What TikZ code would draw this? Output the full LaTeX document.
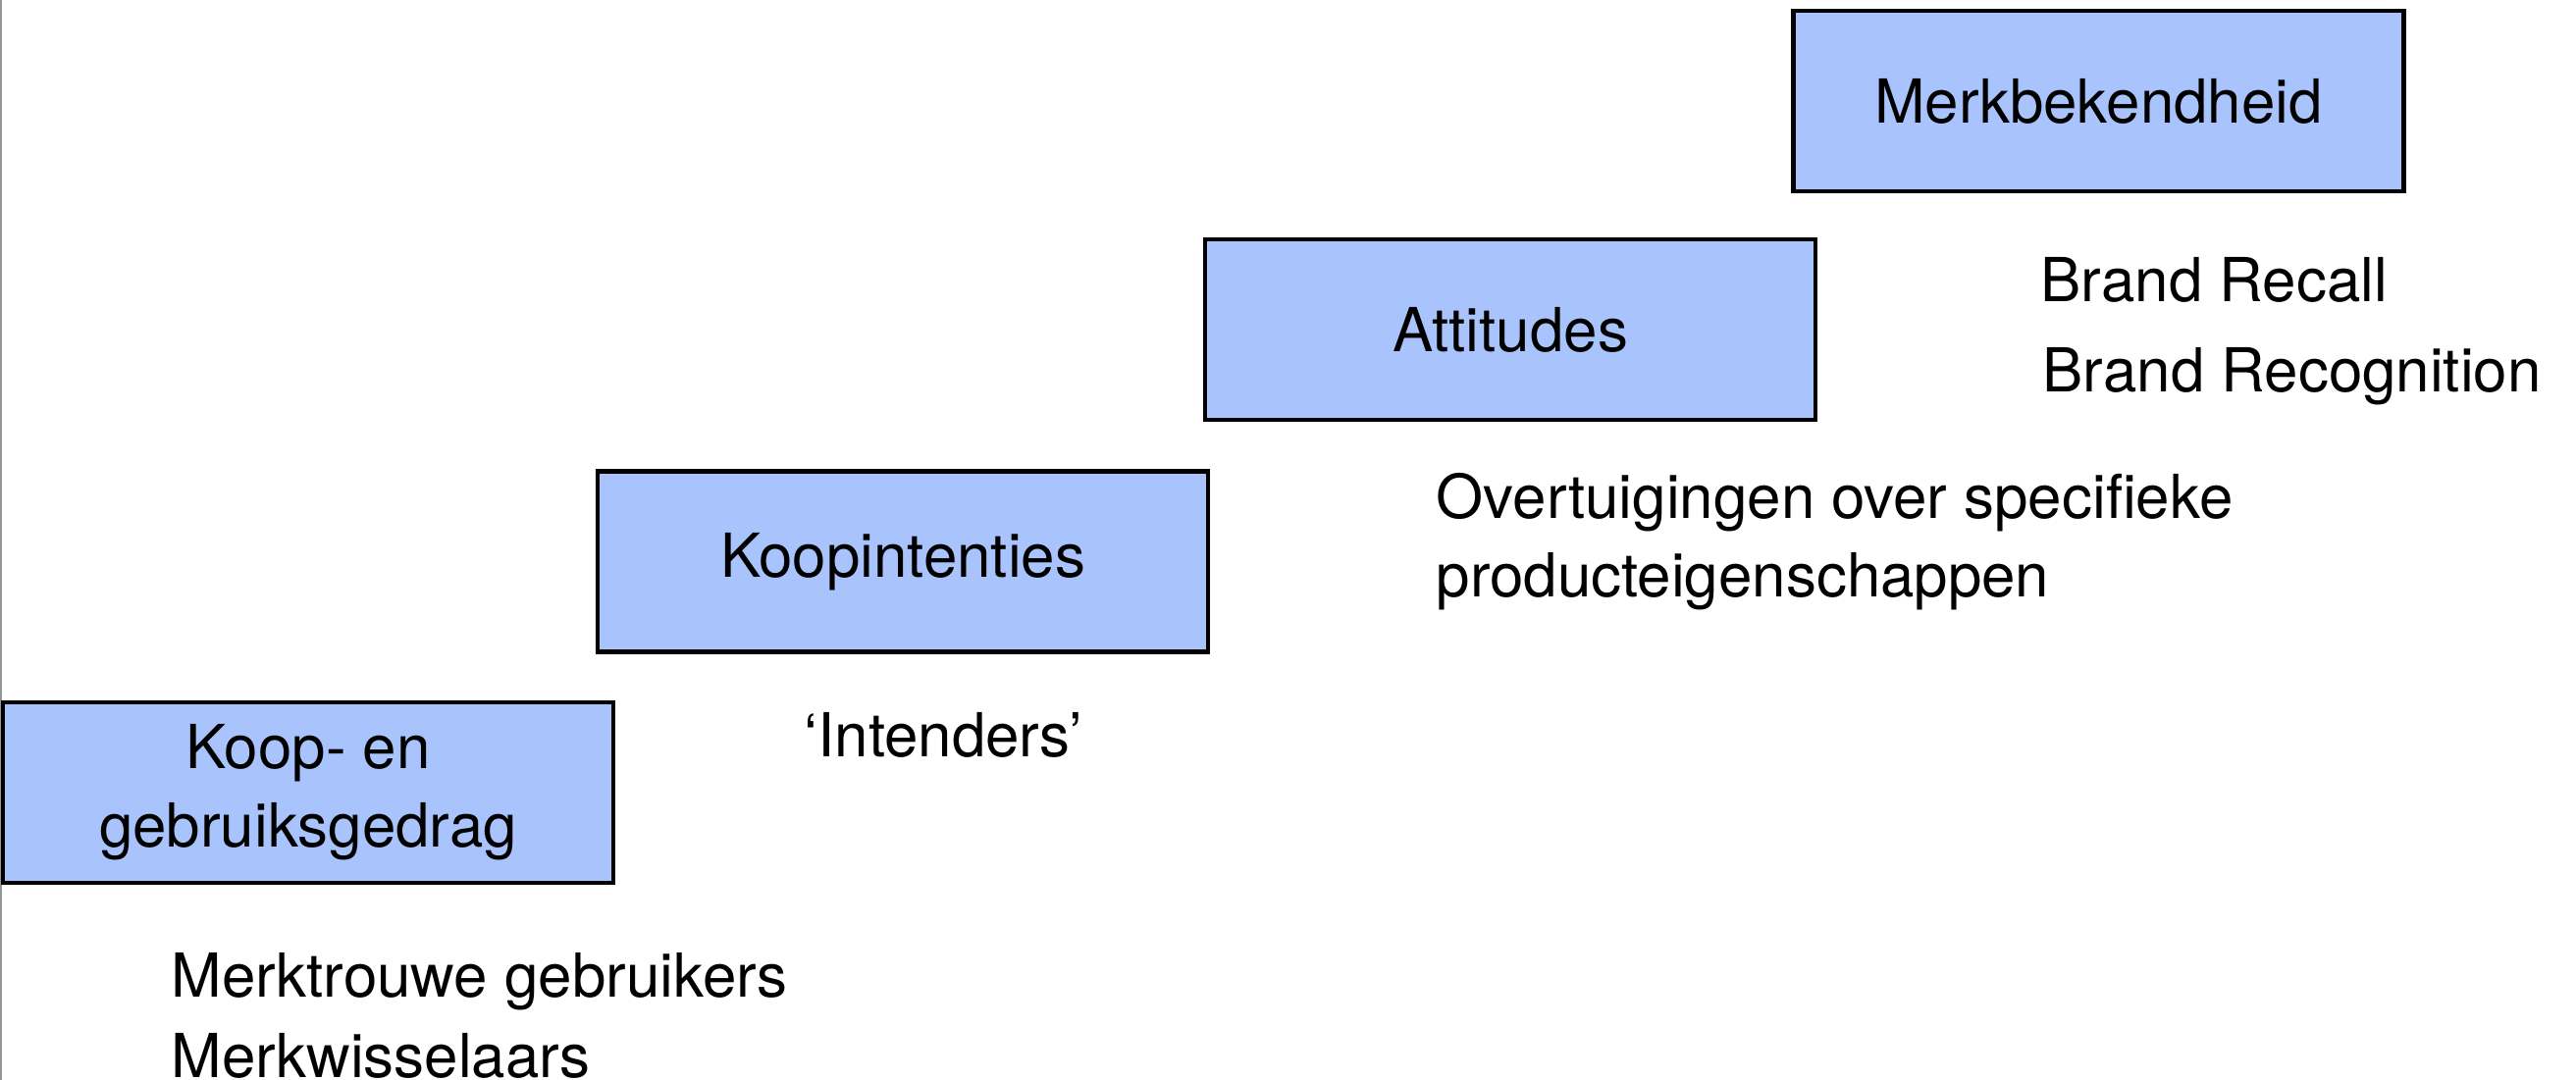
\documentclass[tikz,border=0pt]{standalone}
\usepackage{fontspec}
\setmainfont{TeX Gyre Heros}
\definecolor{stagefill}{RGB}{169,196,252}
\definecolor{edgegray}{RGB}{150,150,150}
\begin{document}
\begin{tikzpicture}[x=1cm,y=1cm,
  stagebox/.style={draw=black, fill=stagefill, line width=1.4pt, rectangle,
    minimum width=6.22cm, minimum height=1.84cm, align=center, inner sep=0pt,
    font=\fontsize{17.6}{22.8}\selectfont},
  note/.style={anchor=base west, inner sep=0pt, align=left,
    font=\fontsize{17.6}{22.8}\selectfont}]
  \useasboundingbox (0,0) rectangle (26.25,-11.01);
  \fill[white] (0,0) rectangle (26.25,-11.01);
  % thin rule along the left edge
  \draw[edgegray, line width=0.6pt] (0.01,0) -- (0.01,-11.01);

  % the four stages, stepping up to the right
  \node[stagebox] (gedrag)   at (3.14,-8.08) {Koop- en\\gebruiksgedrag};
  \node[stagebox] (intentie) at (9.20,-5.725) {Koopintenties};
  \node[stagebox] (attitude) at (15.39,-3.36) {Attitudes};
  \node[stagebox] (bekend)   at (21.385,-1.03) {Merkbekendheid};

  % descriptions under each stage
  \node[note] (recall) at (20.79,-3.08) {Brand Recall};
  \node[note] (recog)  at (20.81,-4.00) {Brand Recognition};
  \node[note] (overt)  at (14.63,-5.29) {Overtuigingen over specifieke};
  \node[note] (prod)   at (14.63,-6.09) {producteigenschappen};
  \node[note] (intend) at (8.19,-7.72) {`Intenders'};
  \node[note] (trouw)  at (1.74,-10.16) {Merktrouwe gebruikers};
  \node[note] (wissel) at (1.74,-10.98) {Merkwisselaars};
\end{tikzpicture}
\end{document}
